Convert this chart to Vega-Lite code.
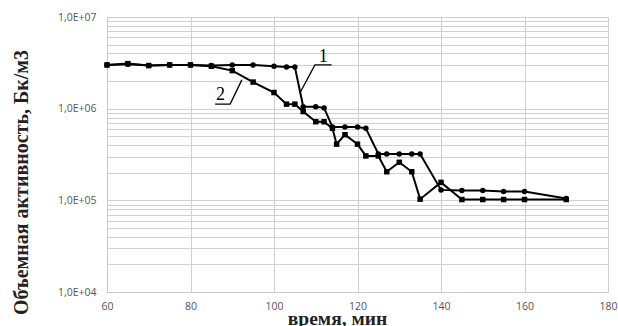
{
  "$schema": "https://vega.github.io/schema/vega-lite/v6.json",
  "width": 501,
  "height": 275,
  "autosize": {"type": "none"},
  "padding": {"left": 107, "top": 17, "right": 10, "bottom": 34},
  "background": "white",
  "config": {"view": {"stroke": null}},
  "datasets": {
    "series": [
      {"t": 60, "v": 3000000, "s": "1"}, {"t": 65, "v": 3050000, "s": "1"}, {"t": 70, "v": 2950000, "s": "1"},
      {"t": 75, "v": 3000000, "s": "1"}, {"t": 80, "v": 3000000, "s": "1"}, {"t": 85, "v": 2950000, "s": "1"},
      {"t": 90, "v": 3000000, "s": "1"}, {"t": 95, "v": 3000000, "s": "1"}, {"t": 100, "v": 2900000, "s": "1"},
      {"t": 103, "v": 2850000, "s": "1"}, {"t": 105, "v": 2850000, "s": "1"}, {"t": 107, "v": 1050000, "s": "1"},
      {"t": 110, "v": 1050000, "s": "1"}, {"t": 112, "v": 1020000, "s": "1"}, {"t": 114, "v": 630000, "s": "1"},
      {"t": 117, "v": 630000, "s": "1"}, {"t": 120, "v": 630000, "s": "1"}, {"t": 122, "v": 610000, "s": "1"},
      {"t": 125, "v": 320000, "s": "1"}, {"t": 127, "v": 320000, "s": "1"}, {"t": 130, "v": 320000, "s": "1"},
      {"t": 133, "v": 320000, "s": "1"}, {"t": 135, "v": 320000, "s": "1"}, {"t": 140, "v": 130000, "s": "1"},
      {"t": 145, "v": 128000, "s": "1"}, {"t": 150, "v": 128000, "s": "1"}, {"t": 155, "v": 125000, "s": "1"},
      {"t": 160, "v": 125000, "s": "1"}, {"t": 170, "v": 105000, "s": "1"},
      {"t": 60, "v": 3000000, "s": "2"}, {"t": 65, "v": 3100000, "s": "2"}, {"t": 70, "v": 2950000, "s": "2"},
      {"t": 75, "v": 3000000, "s": "2"}, {"t": 80, "v": 3000000, "s": "2"}, {"t": 85, "v": 2900000, "s": "2"},
      {"t": 90, "v": 2600000, "s": "2"}, {"t": 95, "v": 1950000, "s": "2"}, {"t": 100, "v": 1500000, "s": "2"},
      {"t": 103, "v": 1120000, "s": "2"}, {"t": 105, "v": 1120000, "s": "2"}, {"t": 107, "v": 930000, "s": "2"},
      {"t": 110, "v": 720000, "s": "2"}, {"t": 112, "v": 720000, "s": "2"}, {"t": 114, "v": 610000, "s": "2"},
      {"t": 115, "v": 410000, "s": "2"}, {"t": 117, "v": 520000, "s": "2"}, {"t": 120, "v": 410000, "s": "2"},
      {"t": 122, "v": 305000, "s": "2"}, {"t": 125, "v": 305000, "s": "2"}, {"t": 127, "v": 205000, "s": "2"},
      {"t": 130, "v": 260000, "s": "2"}, {"t": 133, "v": 205000, "s": "2"}, {"t": 135, "v": 103000, "s": "2"},
      {"t": 140, "v": 157000, "s": "2"}, {"t": 145, "v": 102000, "s": "2"}, {"t": 150, "v": 102000, "s": "2"},
      {"t": 155, "v": 102000, "s": "2"}, {"t": 160, "v": 102000, "s": "2"}, {"t": 170, "v": 102000, "s": "2"}
    ],
    "leaders": [
      {"t": 106.2, "v": 1480000, "g": "L1", "o": 1}, {"t": 109.8, "v": 3000000, "g": "L1", "o": 2}, {"t": 113.8, "v": 3000000, "g": "L1", "o": 3},
      {"t": 92.3, "v": 2060000, "g": "L2", "o": 1}, {"t": 89.5, "v": 1120000, "g": "L2", "o": 2}, {"t": 85.9, "v": 1120000, "g": "L2", "o": 3}
    ],
    "labels": [
      {"t": 111.8, "v": 3700000, "txt": "1"},
      {"t": 87.2, "v": 1410000, "txt": "2"}
    ]
  },
  "encoding": {
    "x": {
      "field": "t", "type": "quantitative",
      "scale": {"domain": [60, 180], "nice": false, "zero": false},
      "axis": {
        "values": [60, 80, 100, 120, 140, 160, 180],
        "title": "время, мин",
        "titleFont": "Liberation Serif", "titleFontSize": 19.5, "titleFontWeight": "bold", "titleColor": "#222",
        "titleX": 230, "titleY": 32, "titleBaseline": "alphabetic", "titleAlign": "center",
        "labelFont": "Open Sans", "labelFontSize": 10.5, "labelColor": "#555", "labelPadding": 9,
        "ticks": false, "grid": true, "gridColor": "#d0d0d0", "gridWidth": 1,
        "domainColor": "#c8c8c8", "labelFlush": false
      }
    },
    "y": {
      "field": "v", "type": "quantitative",
      "scale": {"type": "log", "domain": [10000, 10000000], "nice": false},
      "axis": {
        "values": [10000, 20000, 30000, 40000, 50000, 60000, 70000, 80000, 90000,
                   100000, 200000, 300000, 400000, 500000, 600000, 700000, 800000, 900000,
                   1000000, 2000000, 3000000, 4000000, 5000000, 6000000, 7000000, 8000000, 9000000, 10000000],
        "labelExpr": "datum.value == 10000 ? '1,0E+04' : datum.value == 100000 ? '1,0E+05' : datum.value == 1000000 ? '1,0E+06' : datum.value == 10000000 ? '1,0E+07' : ''",
        "title": "Объемная активность, Бк/м3",
        "titleFont": "Liberation Serif", "titleFontSize": 20, "titleFontWeight": "bold", "titleColor": "#222",
        "titleX": -80, "titleY": 165, "titleBaseline": "alphabetic", "titleAlign": "center", "titleAngle": -90,
        "labelFont": "Open Sans", "labelFontSize": 10.5, "labelColor": "#555", "labelPadding": 11,
        "ticks": false, "grid": true, "gridColor": "#d0d0d0", "gridWidth": 1,
        "domainColor": "#c8c8c8", "labelFlush": false, "labelOverlap": false
      }
    }
  },
  "layer": [
    {
      "data": {"name": "series"},
      "mark": {"type": "line", "color": "black", "strokeWidth": 2},
      "encoding": {"detail": {"field": "s"}}
    },
    {
      "data": {"name": "series"},
      "mark": {"type": "point", "filled": true, "color": "black", "opacity": 1, "size": 30},
      "encoding": {
        "shape": {"field": "s", "type": "nominal", "scale": {"domain": ["1", "2"], "range": ["circle", "square"]}, "legend": null}
      }
    },
    {
      "data": {"name": "leaders"},
      "mark": {"type": "line", "color": "black", "strokeWidth": 1.3},
      "encoding": {"detail": {"field": "g"}, "order": {"field": "o"}}
    },
    {
      "data": {"name": "labels"},
      "mark": {"type": "text", "font": "Liberation Serif", "fontSize": 18, "color": "black"},
      "encoding": {"text": {"field": "txt"}}
    }
  ]
}
